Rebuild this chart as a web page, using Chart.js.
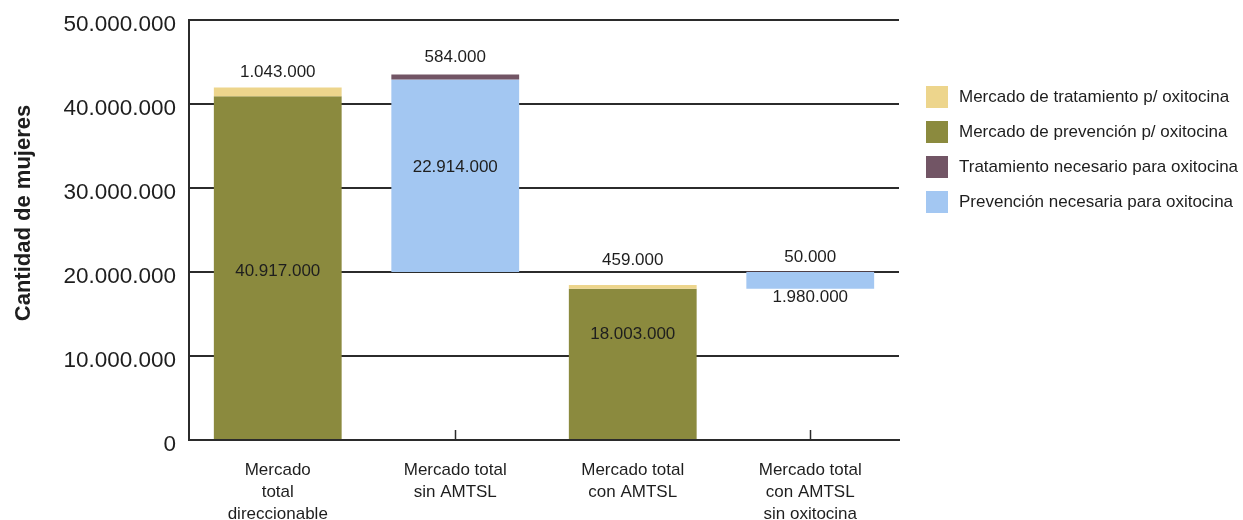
<!DOCTYPE html>
<html lang="es">
<head>
<meta charset="utf-8">
<script src="https://cdn.jsdelivr.net/npm/chart.js@4.4.1/dist/chart.umd.min.js"></script>
<style>
  html, body { margin: 0; padding: 0; background: #fff; }
  #wrap { width: 1243px; height: 520px; }
</style>
</head>
<body>
<div id="wrap"><canvas id="mercadoChart"></canvas></div>
<script>
// ===== Datos =====
const categorias = [
  ["Mercado", "total", "direccionable"],
  ["Mercado total", "sin AMTSL"],
  ["Mercado total", "con AMTSL"],
  ["Mercado total", "con AMTSL", "sin oxitocina"],
];
const prevMercado = [40917000, null, 18003000, null];       // verde oliva, desde 0
const tratMercado = [1043000, null, 459000, null];          // amarillo, sobre el verde
const prevNecesaria = [null, 22914000, null, 1980000];      // azul, flotante
const prevNecesariaBase = [null, 20000000, null, 18020000]; // donde empieza el azul
const tratNecesario = [null, 584000, null, 50000];          // morado, sobre el azul
const yTicks = [0, 10000000, 20000000, 30000000, 40000000, 50000000];

const FONT = "'Liberation Sans', Arial, sans-serif";
const TXT = "#1e1e1e";
const LINEA = "#2b2b2b";

const formato = (n) => String(n).replace(/\B(?=(\d{3})+(?!\d))/g, ".");

// rangos flotantes
const rangoOliva = prevMercado.map((v) => (v == null ? null : [0, v]));
const rangoAmarillo = tratMercado.map((v, i) => (v == null ? null : [prevMercado[i], prevMercado[i] + v]));
const rangoAzul = prevNecesaria.map((v, i) => (v == null ? null : [prevNecesariaBase[i], prevNecesariaBase[i] + v]));
const rangoMorado = tratNecesario.map((v, i) =>
  v == null ? null : [prevNecesariaBase[i] + prevNecesaria[i], prevNecesariaBase[i] + prevNecesaria[i] + v]
);

// colocacion de las etiquetas por dataset: [modo, ajuste] por barra
// arriba: px sobre el borde superior, centro: fraccion desde arriba, abajo: px bajo el borde inferior
const colocacion = [
  [["arriba", 15], null, ["arriba", 25], null],
  [["centro", 0.51], null, ["centro", 0.3], null],
  [null, ["arriba", 17], null, ["arriba", 14]],
  [null, ["centro", 0.456], null, ["abajo", 9]],
];

// ===== Plugin: etiquetas, marcas del eje, titulo y leyenda =====
const etiquetas = {
  id: "etiquetas",
  beforeDatasetsDraw(chart) {
    const { ctx, chartArea, scales: { x } } = chart;
    ctx.save();
    ctx.strokeStyle = LINEA;
    ctx.lineWidth = 1.5;
    categorias.forEach((_, i) => {
      const px = Math.round(x.getPixelForValue(i)) + 0.5;
      ctx.beginPath();
      ctx.moveTo(px, chartArea.bottom);
      ctx.lineTo(px, chartArea.bottom - 10);
      ctx.stroke();
    });
    ctx.restore();
  },
  afterDatasetsDraw(chart) {
    const { ctx } = chart;
    ctx.save();
    ctx.font = "17px " + FONT;
    ctx.fillStyle = TXT;
    ctx.textAlign = "center";
    ctx.textBaseline = "middle";
    chart.data.datasets.forEach((ds, di) => {
      const meta = chart.getDatasetMeta(di);
      meta.data.forEach((bar, i) => {
        const v = ds.valores[i];
        const pos = colocacion[di][i];
        if (v == null || !pos) return;
        const top = Math.min(bar.y, bar.base);
        const bottom = Math.max(bar.y, bar.base);
        let y;
        if (pos[0] === "arriba") y = top - pos[1];
        else if (pos[0] === "abajo") y = bottom + pos[1];
        else y = top + (bottom - top) * pos[1];
        ctx.fillText(formato(v), bar.x, y);
      });
    });

    // titulo del eje Y
    ctx.save();
    ctx.translate(24, 213);
    ctx.rotate(-Math.PI / 2);
    ctx.font = "bold 22px " + FONT;
    ctx.fillText("Cantidad de mujeres", 0, 0);
    ctx.restore();

    // leyenda
    ctx.textAlign = "left";
    ctx.font = "17px " + FONT;
    chart.data.datasets.forEach((ds, i) => {
      const cy = 97 + i * 35;
      ctx.fillStyle = ds.backgroundColor;
      ctx.fillRect(926, cy - 11, 22, 22);
      ctx.fillStyle = TXT;
      ctx.fillText(ds.label, 959, cy);
    });
    ctx.restore();
  },
};

// ===== Grafico =====
const ctx = document.getElementById("mercadoChart").getContext("2d");
new Chart(ctx, {
  type: "bar",
  data: {
    labels: categorias,
    datasets: [
      {
        label: "Mercado de tratamiento p/ oxitocina",
        data: rangoAmarillo,
        valores: tratMercado,
        backgroundColor: "#EDD58C",
      },
      {
        label: "Mercado de prevención p/ oxitocina",
        data: rangoOliva,
        valores: prevMercado,
        backgroundColor: "#8B8A3E",
      },
      {
        label: "Tratamiento necesario para oxitocina",
        data: rangoMorado,
        valores: tratNecesario,
        backgroundColor: "#725565",
      },
      {
        label: "Prevención necesaria para oxitocina",
        data: rangoAzul,
        valores: prevNecesaria,
        backgroundColor: "#A3C7F2",
      },
    ],
  },
  options: {
    responsive: true,
    maintainAspectRatio: false,
    animation: false,
    layout: { padding: { left: 0, right: 344, top: 20, bottom: 0 } },
    datasets: {
      bar: { barPercentage: 0.72, categoryPercentage: 1, borderWidth: 0 },
    },
    plugins: {
      legend: { display: false },
      tooltip: { enabled: false },
    },
    scales: {
      x: {
        stacked: true,
        grid: { display: false, drawTicks: false },
        border: { display: true, color: LINEA, width: 2 },
        ticks: {
          color: TXT,
          font: { family: FONT, size: 17, lineHeight: 1.3 },
          padding: 19,
          maxRotation: 0,
          autoSkip: false,
        },
        afterFit: (scale) => {
          scale.height = 80;
          scale.paddingLeft = 0;
          scale.paddingRight = 0;
        },
      },
      y: {
        stacked: false,
        min: 0,
        max: 50000000,
        afterBuildTicks: (scale) => { scale.ticks = yTicks.map((v) => ({ value: v })); },
        grid: { color: LINEA, lineWidth: 2, drawTicks: false },
        border: { display: true, color: LINEA, width: 2 },
        ticks: {
          color: TXT,
          font: { family: FONT, size: 22.5 },
          padding: 13,
          labelOffset: 5,
          callback: (v) => formato(v),
        },
        afterFit: (scale) => {
          scale.width = 189;
          scale.paddingTop = 0;
          scale.paddingBottom = 0;
        },
      },
    },
  },
  plugins: [etiquetas],
});
</script>
</body>
</html>
